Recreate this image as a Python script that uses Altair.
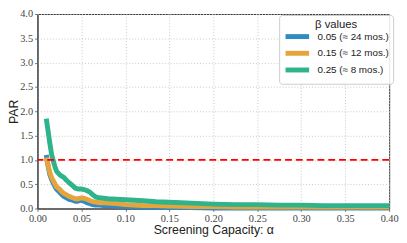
import altair as alt
import pandas as pd

alphas = [0.010, 0.012, 0.014, 0.016, 0.018, 0.020, 0.022, 0.025, 0.028, 0.030,
          0.033, 0.036, 0.040, 0.043, 0.046, 0.050, 0.053, 0.056, 0.060, 0.063,
          0.066, 0.070, 0.075, 0.080, 0.090, 0.100, 0.110, 0.120, 0.135, 0.150,
          0.175, 0.200, 0.225, 0.250, 0.275, 0.300, 0.325, 0.350, 0.375, 0.400]

par_005 = [1.10, 0.88, 0.70, 0.60, 0.52, 0.45, 0.39, 0.34, 0.28, 0.25,
           0.22, 0.19, 0.17, 0.15, 0.15, 0.17, 0.15, 0.12, 0.10, 0.08,
           0.07, 0.07, 0.06, 0.06, 0.05, 0.04, 0.04, 0.03, 0.03, 0.02,
           0.02, 0.01, 0.01, 0.01, 0.01, 0.01, 0.01, 0.01, 0.01, 0.01]
par_015 = [1.05, 0.90, 0.74, 0.64, 0.57, 0.50, 0.44, 0.40, 0.34, 0.31,
           0.28, 0.25, 0.22, 0.20, 0.20, 0.22, 0.21, 0.19, 0.16, 0.14,
           0.13, 0.12, 0.12, 0.11, 0.10, 0.08, 0.07, 0.06, 0.06, 0.05,
           0.04, 0.04, 0.03, 0.03, 0.03, 0.03, 0.03, 0.03, 0.03, 0.03]
par_025 = [1.85, 1.60, 1.35, 1.12, 0.98, 0.85, 0.76, 0.70, 0.66, 0.64,
           0.58, 0.53, 0.47, 0.42, 0.40, 0.40, 0.39, 0.37, 0.33, 0.28,
           0.24, 0.22, 0.21, 0.20, 0.19, 0.18, 0.17, 0.16, 0.14, 0.13,
           0.11, 0.09, 0.08, 0.08, 0.07, 0.07, 0.06, 0.06, 0.06, 0.06]

series_labels = ["0.05 (≈ 24 mos.)", "0.15 (≈ 12 mos.)", "0.25 (≈ 8 mos.)"]
series_colors = ["#2f8bc4", "#e6a53c", "#2fb38b"]

x_ticks = [0.0, 0.05, 0.10, 0.15, 0.20, 0.25, 0.30, 0.35, 0.40]
y_ticks = [0.0, 0.5, 1.0, 1.5, 2.0, 2.5, 3.0, 3.5, 4.0]
threshold = [1.0]

rows = []
for lab, vals in zip(series_labels, [par_005, par_015, par_025]):
    for a, v in zip(alphas, vals):
        rows.append({"alpha": a, "PAR": v, "beta": lab})
df = pd.DataFrame(rows)

y_scale = alt.Scale(domain=[0, 4], nice=False)
y_axis = alt.Axis(values=y_ticks, format=".1f", title="PAR",
                  titleX=-20, titleBaseline="alphabetic")

color = alt.Color(
    "beta:N",
    scale=alt.Scale(domain=series_labels, range=series_colors),
    sort=series_labels,
    legend=alt.Legend(title="β values"),
)

lines = alt.Chart(df).mark_line(strokeWidth=5, strokeJoin="round").encode(
    x=alt.X("alpha:Q",
            scale=alt.Scale(domain=[0, 0.4], nice=False),
            axis=alt.Axis(values=x_ticks, format=".2f", title="Screening Capacity: α",
                          titleY=25, titleBaseline="alphabetic")),
    y=alt.Y("PAR:Q", scale=y_scale, axis=y_axis),
    color=color,
    detail="beta:N",
)

rule = alt.Chart(pd.DataFrame({"PAR": threshold})).mark_rule(
    color="#ff0000", strokeWidth=2, strokeDash=[7, 4]
).encode(y=alt.Y("PAR:Q", scale=y_scale, axis=y_axis))

chart = alt.layer(lines, rule).properties(
    width=358, height=198,
    padding={"left": 30, "top": 4, "right": 10, "bottom": 33},
    autosize="none",
).configure_view(
    stroke="#333", strokeWidth=1
).configure_axis(
    labelFont="Liberation Serif", labelFontSize=10.5, labelColor="#444",
    labelFlush=False, labelOverlap=False, labelPadding=2,
    tickColor="#777", tickSize=3,
    domainColor="#333",
    gridColor="#c8c8c8", gridDash=[1, 2],
    titleFont="Liberation Sans", titleFontSize=12.5, titleFontWeight="normal",
    titleColor="#222",
).configure_legend(
    orient="none", legendX=246, legendY=1,
    symbolType="M-3,0H3", symbolSize=64, symbolStrokeWidth=5, symbolOffset=8,
    labelFont="Liberation Sans", labelFontSize=10, labelColor="#222", labelOffset=14,
    titleFont="Liberation Sans", titleFontSize=11.5, titleFontWeight="normal",
    titleColor="#222", titleAnchor="middle", titlePadding=0,
    padding=4, rowPadding=-4.5,
    fillColor="rgba(255,255,255,0.85)", strokeColor="#ccc", cornerRadius=3,
)

chart.save("out.html", embed_options={"renderer": "svg", "actions": False})
